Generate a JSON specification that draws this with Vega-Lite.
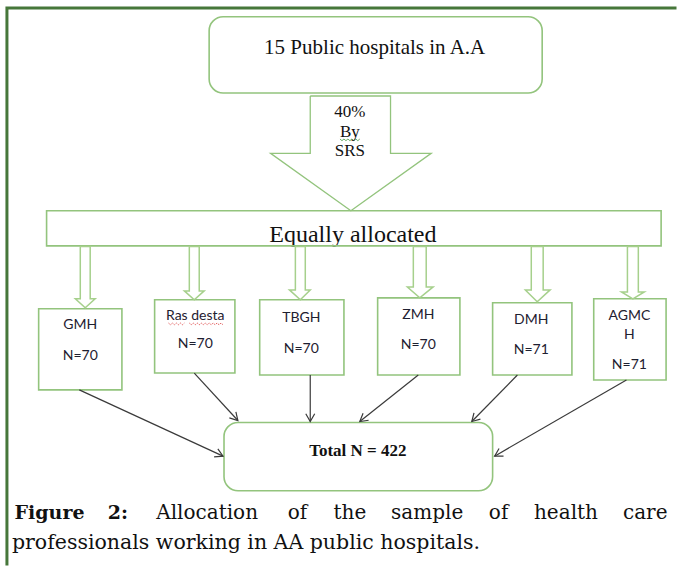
{
  "$schema": "https://vega.github.io/schema/vega-lite/v6.json",
  "width": 681,
  "height": 570,
  "padding": 0,
  "autosize": {"type": "fit", "contains": "padding"},
  "background": "white",
  "config": {"view": {"stroke": null}},
  "datasets": {
    "border": [
      {"seq": 1, "x": 7, "y": 570},
      {"seq": 2, "x": 7, "y": 8},
      {"seq": 3, "x": 681, "y": 8}
    ],
    "roundBoxes": [
      {"name": "top", "x": 211, "x2": 547, "y": 17, "y2": 94},
      {"name": "total", "x": 226, "x2": 497, "y": 427, "y2": 496}
    ],
    "squareBoxes": [
      {"name": "Equally", "x": 47, "x2": 667, "y": 213, "y2": 248.5},
      {"name": "GMH", "x": 39, "x2": 123, "y": 312, "y2": 394},
      {"name": "Ras desta", "x": 156, "x2": 237, "y": 303, "y2": 377},
      {"name": "TBGH", "x": 262, "x2": 347, "y": 303, "y2": 379},
      {"name": "ZMH", "x": 381, "x2": 464, "y": 301, "y2": 379},
      {"name": "DMH", "x": 497, "x2": 577, "y": 306, "y2": 379},
      {"name": "AGMCH", "x": 599, "x2": 672, "y": 302, "y2": 384}
    ],
    "mask": [
      {"x": 44, "x2": 670, "y": 249.3, "y2": 258}
    ],
    "bigArrow": [
      {"seq": 1, "x": 313, "y": 97},
      {"seq": 2, "x": 394, "y": 97},
      {"seq": 3, "x": 394, "y": 155},
      {"seq": 4, "x": 435, "y": 155},
      {"seq": 5, "x": 354, "y": 213},
      {"seq": 6, "x": 273, "y": 155},
      {"seq": 7, "x": 313, "y": 155},
      {"seq": 8, "x": 313, "y": 97}
    ],
    "smallArrows": [
      {"arrow": "GMH", "seq": 1, "x": 81, "y": 249},
      {"arrow": "GMH", "seq": 2, "x": 91, "y": 249},
      {"arrow": "GMH", "seq": 3, "x": 91, "y": 302},
      {"arrow": "GMH", "seq": 4, "x": 96, "y": 302},
      {"arrow": "GMH", "seq": 5, "x": 86, "y": 311},
      {"arrow": "GMH", "seq": 6, "x": 76, "y": 302},
      {"arrow": "GMH", "seq": 7, "x": 81, "y": 302},
      {"arrow": "GMH", "seq": 8, "x": 81, "y": 249},
      {"arrow": "Ras", "seq": 1, "x": 191, "y": 249},
      {"arrow": "Ras", "seq": 2, "x": 201, "y": 249},
      {"arrow": "Ras", "seq": 3, "x": 201, "y": 294},
      {"arrow": "Ras", "seq": 4, "x": 206, "y": 294},
      {"arrow": "Ras", "seq": 5, "x": 196, "y": 303},
      {"arrow": "Ras", "seq": 6, "x": 186, "y": 294},
      {"arrow": "Ras", "seq": 7, "x": 191, "y": 294},
      {"arrow": "Ras", "seq": 8, "x": 191, "y": 249},
      {"arrow": "TBGH", "seq": 1, "x": 298, "y": 249},
      {"arrow": "TBGH", "seq": 2, "x": 308, "y": 249},
      {"arrow": "TBGH", "seq": 3, "x": 308, "y": 293},
      {"arrow": "TBGH", "seq": 4, "x": 313, "y": 293},
      {"arrow": "TBGH", "seq": 5, "x": 303, "y": 303},
      {"arrow": "TBGH", "seq": 6, "x": 292, "y": 293},
      {"arrow": "TBGH", "seq": 7, "x": 298, "y": 293},
      {"arrow": "TBGH", "seq": 8, "x": 298, "y": 249},
      {"arrow": "ZMH", "seq": 1, "x": 417, "y": 249},
      {"arrow": "ZMH", "seq": 2, "x": 430, "y": 249},
      {"arrow": "ZMH", "seq": 3, "x": 430, "y": 290},
      {"arrow": "ZMH", "seq": 4, "x": 437, "y": 290},
      {"arrow": "ZMH", "seq": 5, "x": 423.5, "y": 301},
      {"arrow": "ZMH", "seq": 6, "x": 411, "y": 290},
      {"arrow": "ZMH", "seq": 7, "x": 417, "y": 290},
      {"arrow": "ZMH", "seq": 8, "x": 417, "y": 249},
      {"arrow": "DMH", "seq": 1, "x": 536, "y": 249},
      {"arrow": "DMH", "seq": 2, "x": 548, "y": 249},
      {"arrow": "DMH", "seq": 3, "x": 548, "y": 293},
      {"arrow": "DMH", "seq": 4, "x": 555, "y": 293},
      {"arrow": "DMH", "seq": 5, "x": 542, "y": 305},
      {"arrow": "DMH", "seq": 6, "x": 530, "y": 293},
      {"arrow": "DMH", "seq": 7, "x": 536, "y": 293},
      {"arrow": "DMH", "seq": 8, "x": 536, "y": 249},
      {"arrow": "AGMCH", "seq": 1, "x": 633, "y": 249},
      {"arrow": "AGMCH", "seq": 2, "x": 644, "y": 249},
      {"arrow": "AGMCH", "seq": 3, "x": 644, "y": 295},
      {"arrow": "AGMCH", "seq": 4, "x": 650, "y": 295},
      {"arrow": "AGMCH", "seq": 5, "x": 638.5, "y": 302},
      {"arrow": "AGMCH", "seq": 6, "x": 627, "y": 295},
      {"arrow": "AGMCH", "seq": 7, "x": 633, "y": 295},
      {"arrow": "AGMCH", "seq": 8, "x": 633, "y": 249}
    ],
    "links": [
      {"from": "GMH", "x": 80, "y": 394, "x2": 225, "y2": 461},
      {"from": "Ras desta", "x": 196, "y": 377, "x2": 240, "y2": 425},
      {"from": "TBGH", "x": 313, "y": 379, "x2": 313, "y2": 426},
      {"from": "ZMH", "x": 422, "y": 379, "x2": 363, "y2": 426},
      {"from": "DMH", "x": 522, "y": 379, "x2": 476, "y2": 426},
      {"from": "AGMCH", "x": 632, "y": 384, "x2": 499, "y2": 461}
    ],
    "heads": [
      {"from": "GMH", "seq": 1, "x": 219.8, "y": 453.6},
      {"from": "GMH", "seq": 2, "x": 225, "y": 461},
      {"from": "GMH", "seq": 3, "x": 216.0, "y": 461.8},
      {"from": "Ras desta", "seq": 1, "x": 238.0, "y": 416.2},
      {"from": "Ras desta", "seq": 2, "x": 240, "y": 425},
      {"from": "Ras desta", "seq": 3, "x": 231.4, "y": 422.3},
      {"from": "TBGH", "seq": 1, "x": 317.5, "y": 418.2},
      {"from": "TBGH", "seq": 2, "x": 313, "y": 426},
      {"from": "TBGH", "seq": 3, "x": 308.5, "y": 418.2},
      {"from": "ZMH", "seq": 1, "x": 371.9, "y": 424.7},
      {"from": "ZMH", "seq": 2, "x": 363, "y": 426},
      {"from": "ZMH", "seq": 3, "x": 366.3, "y": 417.6},
      {"from": "DMH", "seq": 1, "x": 484.7, "y": 423.6},
      {"from": "DMH", "seq": 2, "x": 476, "y": 426},
      {"from": "DMH", "seq": 3, "x": 478.2, "y": 417.3},
      {"from": "AGMCH", "seq": 1, "x": 508, "y": 461},
      {"from": "AGMCH", "seq": 2, "x": 499, "y": 461},
      {"from": "AGMCH", "seq": 3, "x": 503.5, "y": 453.2}
    ],
    "greenWave": [
      {"seq": 1, "x": 343, "y": 140.5},
      {"seq": 2, "x": 345, "y": 142.2},
      {"seq": 3, "x": 347, "y": 140.5},
      {"seq": 4, "x": 349, "y": 142.2},
      {"seq": 5, "x": 351, "y": 140.5},
      {"seq": 6, "x": 353, "y": 142.2},
      {"seq": 7, "x": 355, "y": 140.5},
      {"seq": 8, "x": 357, "y": 142.2},
      {"seq": 9, "x": 359, "y": 140.5},
      {"seq": 10, "x": 361, "y": 142.2},
      {"seq": 11, "x": 363, "y": 140.5}
    ],
    "redWave": [
      {"word": "Ras", "seq": 1, "x": 170, "y": 326.5},
      {"word": "Ras", "seq": 2, "x": 172, "y": 328.2},
      {"word": "Ras", "seq": 3, "x": 174, "y": 326.5},
      {"word": "Ras", "seq": 4, "x": 176, "y": 328.2},
      {"word": "Ras", "seq": 5, "x": 178, "y": 326.5},
      {"word": "Ras", "seq": 6, "x": 180, "y": 328.2},
      {"word": "Ras", "seq": 7, "x": 182, "y": 326.5},
      {"word": "Ras", "seq": 8, "x": 184, "y": 328.2},
      {"word": "Ras", "seq": 9, "x": 186, "y": 326.5},
      {"word": "desta", "seq": 1, "x": 191, "y": 326.5},
      {"word": "desta", "seq": 2, "x": 193, "y": 328.2},
      {"word": "desta", "seq": 3, "x": 195, "y": 326.5},
      {"word": "desta", "seq": 4, "x": 197, "y": 328.2},
      {"word": "desta", "seq": 5, "x": 199, "y": 326.5},
      {"word": "desta", "seq": 6, "x": 201, "y": 328.2},
      {"word": "desta", "seq": 7, "x": 203, "y": 326.5},
      {"word": "desta", "seq": 8, "x": 205, "y": 328.2},
      {"word": "desta", "seq": 9, "x": 207, "y": 326.5},
      {"word": "desta", "seq": 10, "x": 209, "y": 328.2},
      {"word": "desta", "seq": 11, "x": 211, "y": 326.5},
      {"word": "desta", "seq": 12, "x": 213, "y": 328.2},
      {"word": "desta", "seq": 13, "x": 215, "y": 326.5},
      {"word": "desta", "seq": 14, "x": 217, "y": 328.2},
      {"word": "desta", "seq": 15, "x": 219, "y": 326.5},
      {"word": "desta", "seq": 16, "x": 221, "y": 328.2},
      {"word": "desta", "seq": 17, "x": 223, "y": 326.5},
      {"word": "desta", "seq": 18, "x": 225, "y": 328.2}
    ],
    "titleText": [
      {"label": "15 Public hospitals in A.A", "x": 378, "y": 55}
    ],
    "srsText": [
      {"label": "40%", "x": 353, "y": 118},
      {"label": "By", "x": 353, "y": 138},
      {"label": "SRS", "x": 353, "y": 158}
    ],
    "equallyText": [
      {"label": "Equally allocated", "x": 356, "y": 245}
    ],
    "hospitalText": [
      {"label": "GMH", "x": 81, "y": 332},
      {"label": "N=70", "x": 81, "y": 364},
      {"label": "Ras desta", "x": 197, "y": 323},
      {"label": "N=70", "x": 197, "y": 352},
      {"label": "TBGH", "x": 304, "y": 325},
      {"label": "N=70", "x": 304, "y": 357},
      {"label": "ZMH", "x": 422, "y": 322},
      {"label": "N=70", "x": 422, "y": 353},
      {"label": "DMH", "x": 536, "y": 327},
      {"label": "N=71", "x": 536, "y": 358},
      {"label": "AGMC", "x": 635, "y": 323},
      {"label": "H", "x": 635, "y": 343},
      {"label": "N=71", "x": 635, "y": 373}
    ],
    "totalText": [
      {"label": "Total N = 422", "x": 361, "y": 461}
    ],
    "captionBold": [
      {"label": "Figure", "x": 50, "y": 525},
      {"label": "2:", "x": 119, "y": 525}
    ],
    "captionWords": [
      {"label": "Allocation", "x": 209, "y": 525},
      {"label": "of", "x": 300, "y": 525},
      {"label": "the", "x": 353, "y": 525},
      {"label": "sample", "x": 431, "y": 525},
      {"label": "of", "x": 503, "y": 525},
      {"label": "health", "x": 571, "y": 525},
      {"label": "care", "x": 651, "y": 525}
    ],
    "captionLine2": [
      {"label": "professionals working in AA public hospitals.", "x": 12, "y": 555}
    ]
  },
  "encoding": {
    "x": {"field": "x", "type": "quantitative", "scale": {"domain": [0, 681], "nice": false, "zero": false}, "axis": null},
    "y": {"field": "y", "type": "quantitative", "scale": {"domain": [0, 570], "reverse": true, "nice": false, "zero": false}, "axis": null}
  },
  "layer": [
    {
      "data": {"name": "equallyText"},
      "mark": {"type": "text", "font": "Liberation Serif", "fontSize": 24, "align": "center", "baseline": "alphabetic", "color": "#111111"},
      "encoding": {"text": {"field": "label"}}
    },
    {
      "data": {"name": "mask"},
      "mark": {"type": "rect", "fill": "white", "stroke": null},
      "encoding": {"x2": {"field": "x2"}, "y2": {"field": "y2"}}
    },
    {
      "data": {"name": "border"},
      "mark": {"type": "line", "color": "#46773a", "strokeWidth": 3, "strokeCap": "square"},
      "encoding": {"order": {"field": "seq", "type": "quantitative"}}
    },
    {
      "data": {"name": "roundBoxes"},
      "mark": {"type": "rect", "filled": false, "stroke": "#93c47d", "strokeWidth": 1.6, "cornerRadius": 14},
      "encoding": {"x2": {"field": "x2"}, "y2": {"field": "y2"}}
    },
    {
      "data": {"name": "squareBoxes"},
      "mark": {"type": "rect", "filled": false, "stroke": "#93c47d", "strokeWidth": 1.6},
      "encoding": {"x2": {"field": "x2"}, "y2": {"field": "y2"}}
    },
    {
      "data": {"name": "bigArrow"},
      "mark": {"type": "line", "color": "#93c47d", "strokeWidth": 1.3, "strokeJoin": "miter"},
      "encoding": {"order": {"field": "seq", "type": "quantitative"}}
    },
    {
      "data": {"name": "smallArrows"},
      "mark": {"type": "line", "color": "#a6d08c", "strokeWidth": 1.5, "strokeJoin": "miter"},
      "encoding": {"detail": {"field": "arrow"}, "order": {"field": "seq", "type": "quantitative"}}
    },
    {
      "data": {"name": "links"},
      "mark": {"type": "rule", "color": "#3a3a3a", "strokeWidth": 1.2},
      "encoding": {"x2": {"field": "x2"}, "y2": {"field": "y2"}}
    },
    {
      "data": {"name": "heads"},
      "mark": {"type": "line", "color": "#3a3a3a", "strokeWidth": 1.2},
      "encoding": {"detail": {"field": "from"}, "order": {"field": "seq", "type": "quantitative"}}
    },
    {
      "data": {"name": "greenWave"},
      "mark": {"type": "line", "color": "#5aa55a", "strokeWidth": 0.9},
      "encoding": {"order": {"field": "seq", "type": "quantitative"}}
    },
    {
      "data": {"name": "redWave"},
      "mark": {"type": "line", "color": "#e05050", "strokeWidth": 0.9, "strokeDash": [1.5, 1]},
      "encoding": {"detail": {"field": "word"}, "order": {"field": "seq", "type": "quantitative"}}
    },
    {
      "data": {"name": "titleText"},
      "mark": {"type": "text", "font": "Liberation Serif", "fontSize": 21, "align": "center", "baseline": "alphabetic", "color": "#111111"},
      "encoding": {"text": {"field": "label"}}
    },
    {
      "data": {"name": "srsText"},
      "mark": {"type": "text", "font": "Liberation Serif", "fontSize": 17, "align": "center", "baseline": "alphabetic", "color": "#111111"},
      "encoding": {"text": {"field": "label"}}
    },
    {
      "data": {"name": "hospitalText"},
      "mark": {"type": "text", "font": "Lato", "fontSize": 14, "align": "center", "baseline": "alphabetic", "color": "#1e2030"},
      "encoding": {"text": {"field": "label"}}
    },
    {
      "data": {"name": "totalText"},
      "mark": {"type": "text", "font": "Liberation Serif", "fontSize": 17, "fontWeight": "bold", "align": "center", "baseline": "alphabetic", "color": "#111111"},
      "encoding": {"text": {"field": "label"}}
    },
    {
      "data": {"name": "captionBold"},
      "mark": {"type": "text", "font": "DejaVu Serif", "fontSize": 19, "fontWeight": "bold", "align": "center", "baseline": "alphabetic", "color": "#111111"},
      "encoding": {"text": {"field": "label"}}
    },
    {
      "data": {"name": "captionWords"},
      "mark": {"type": "text", "font": "DejaVu Serif", "fontSize": 20, "align": "center", "baseline": "alphabetic", "color": "#111111"},
      "encoding": {"text": {"field": "label"}}
    },
    {
      "data": {"name": "captionLine2"},
      "mark": {"type": "text", "font": "DejaVu Serif", "fontSize": 20.5, "align": "left", "baseline": "alphabetic", "color": "#111111"},
      "encoding": {"text": {"field": "label"}}
    }
  ]
}
